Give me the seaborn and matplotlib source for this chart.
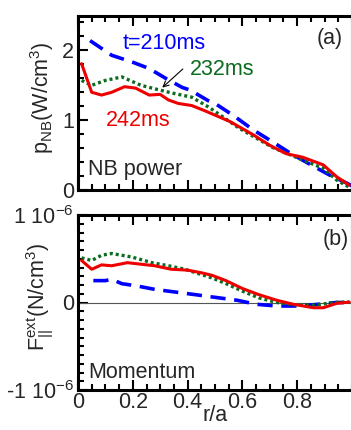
import numpy as np
import pandas as pd
import seaborn as sns
import matplotlib
matplotlib.use("Agg")
import matplotlib.pyplot as plt
from matplotlib.ticker import MultipleLocator

# ---- data ----
# (a) NB power density, W/cm^3
r_210a = [0.044, 0.123, 0.20, 0.26, 0.32, 0.38, 0.41, 0.475, 0.50, 0.566, 0.64, 0.71, 0.774, 0.85, 0.92, 0.98, 1.0]
p_210 = [2.14, 1.93, 1.83, 1.74, 1.60, 1.47, 1.43, 1.28, 1.24, 1.07, 0.86, 0.69, 0.53, 0.36, 0.21, 0.10, 0.06]

r_232a = [0.013, 0.05, 0.10, 0.16, 0.23, 0.30, 0.354, 0.415, 0.48, 0.59, 0.71, 0.82, 0.895, 0.945, 0.99]
p_232 = [1.57, 1.50, 1.57, 1.62, 1.50, 1.43, 1.38, 1.33, 1.18, 0.88, 0.61, 0.43, 0.31, 0.14, 0.04]

r_242a = [0.013, 0.05, 0.086, 0.123, 0.17, 0.21, 0.26, 0.30, 0.33, 0.366, 0.415, 0.46, 0.555, 0.64,
          0.70, 0.76, 0.82, 0.895, 0.944, 0.99]
p_242 = [1.81, 1.40, 1.36, 1.40, 1.48, 1.46, 1.36, 1.37, 1.29, 1.24, 1.21, 1.14, 0.98, 0.79,
         0.64, 0.52, 0.47, 0.36, 0.19, 0.07]

# (b) external parallel force, units of 1e-7 N/cm^3
r_210b = [0.056, 0.10, 0.123, 0.16, 0.214, 0.28, 0.354, 0.427, 0.488, 0.58, 0.65, 0.725, 0.80, 0.88, 0.944, 0.99]
f_210 = [2.5, 2.5, 2.65, 2.15, 1.9, 1.5, 1.2, 0.9, 0.64, 0.26, -0.2, -0.4, -0.4, -0.2, 0.0, 0.0]

r_232b = [0.013, 0.05, 0.086, 0.123, 0.196, 0.27, 0.33, 0.39, 0.45, 0.49, 0.54, 0.60, 0.66, 0.725,
          0.80, 0.87, 0.93, 0.99]
f_232 = [5.1, 4.8, 5.4, 5.6, 5.2, 4.55, 4.2, 3.8, 3.2, 2.8, 2.15, 1.3, 0.53, 0.0,
         -0.3, -0.3, 0.0, 0.05]

r_242b = [0.013, 0.05, 0.086, 0.123, 0.18, 0.28, 0.34, 0.40, 0.45, 0.49, 0.54, 0.60, 0.66, 0.725,
          0.785, 0.86, 0.895, 0.944, 0.99]
f_242 = [4.8, 3.8, 4.3, 4.2, 4.55, 4.2, 3.8, 3.7, 3.4, 3.1, 2.5, 1.6, 0.9, 0.26,
         -0.2, -0.6, -0.6, -0.1, 0.05]

x_ticks = [0, 0.2, 0.4, 0.6, 0.8]
x_ticklabels = ["0", "0.2", "0.4", "0.6", "0.8"]
yb_ticks = [-1e-6, 0, 1e-6]
yb_ticklabels = ["-1 10$^{-6}$", "0", "1 10$^{-6}$"]

# ---- style ----
sns.set_style("ticks")
plt.rcParams["font.family"] = ["Liberation Sans", "DejaVu Sans"]
plt.rcParams["mathtext.fontset"] = "custom"
plt.rcParams["mathtext.rm"] = "Liberation Sans"
plt.rcParams["mathtext.it"] = "Liberation Sans"
plt.rcParams["mathtext.default"] = "regular"

FS = 15.5
BLUE = "#0000ff"
GREEN = "#0b6b1e"
RED = "#ee0000"

fig = plt.figure(figsize=(3.51, 4.30), dpi=100)
ax1 = fig.add_axes([78 / 351, 1 - 190 / 430, 274 / 351, 174.5 / 430])
ax2 = fig.add_axes([78 / 351, 1 - 390 / 430, 274 / 351, 175 / 430])

blue_kw = dict(color=BLUE, lw=2.6, linestyle=(0, (4.2, 2.4)))
green_kw = dict(color=GREEN, lw=2.4, linestyle=(0, (0.9, 0.9)))
red_kw = dict(color=RED, lw=2.2, linestyle="-")


def draw(ax, x, y, kw, scale=1.0):
    d = pd.DataFrame({"r": x, "v": np.asarray(y) * scale})
    sns.lineplot(data=d, x="r", y="v", ax=ax, errorbar=None, sort=False, **kw)


draw(ax1, r_210a, p_210, blue_kw)
draw(ax1, r_232a, p_232, green_kw)
draw(ax1, r_242a, p_242, red_kw)

ax2.axhline(0, color="#555555", lw=0.8, zorder=1)
draw(ax2, r_210b, f_210, blue_kw, 1e-7)
draw(ax2, r_232b, f_232, green_kw, 1e-7)
draw(ax2, r_242b, f_242, red_kw, 1e-7)

for ax in (ax1, ax2):
    ax.set_xlim(0, 1.0)
    for s in ax.spines.values():
        s.set_linewidth(2.2)
        s.set_color("black")
    ax.xaxis.set_major_locator(MultipleLocator(0.2))
    ax.xaxis.set_minor_locator(MultipleLocator(0.05))
    ax.tick_params(which="both", direction="in", top=True, right=False,
                   labelsize=FS, width=1.5, color="black", pad=3)
    ax.tick_params(which="major", length=7)
    ax.tick_params(which="minor", length=4)
    ax.set_xlabel("")
    ax.set_ylabel("")

ax1.set_ylim(0, 2.5)
ax1.yaxis.set_major_locator(MultipleLocator(1))
ax1.yaxis.set_minor_locator(MultipleLocator(0.2))
ax1.set_xticks(x_ticks)
ax1.set_xticklabels([])
ax1.set_ylabel("p$_{NB}$(W/cm$^{3}$)", fontsize=FS)
ax1.yaxis.set_label_coords(-0.08, 0.53)

ax2.set_ylim(-1e-6, 1e-6)
ax2.set_yticks(yb_ticks)
ax2.set_yticklabels(yb_ticklabels)
ax2.yaxis.set_minor_locator(MultipleLocator(1e-7))
ax2.set_xticks(x_ticks)
ax2.set_xticklabels(x_ticklabels)
ax2.tick_params(axis="x", pad=1.5)
ax2.set_ylabel("F$_{||}^{ext}$(N/cm$^{3}$)", fontsize=FS)
ax2.yaxis.set_label_coords(-0.08, 0.53)
ax2.set_xlabel("r/a", fontsize=FS, labelpad=-6)

# annotations
ax1.text(0.164, 2.1, "t=210ms", color=BLUE, fontsize=FS, ha="left", va="center")
ax1.text(0.41, 1.73, "232ms", color=GREEN, fontsize=FS, ha="left", va="center")
ax1.text(0.10, 1.0, "242ms", color=RED, fontsize=FS, ha="left", va="center")
ax1.annotate("", xy=(0.30, 1.44), xytext=(0.39, 1.76),
             arrowprops=dict(arrowstyle="->", lw=0.8, color="black"))
ax1.text(0.967, 0.87, "(a)", transform=ax1.transAxes, fontsize=FS, ha="right", va="center")
ax1.text(0.036, 0.115, "NB power", transform=ax1.transAxes, fontsize=FS, ha="left", va="center")
ax2.text(0.99, 0.86, "(b)", transform=ax2.transAxes, fontsize=FS, ha="right", va="center")
ax2.text(0.036, 0.10, "Momentum", transform=ax2.transAxes, fontsize=FS, ha="left", va="center")

fig.savefig("out.png", dpi=100)
